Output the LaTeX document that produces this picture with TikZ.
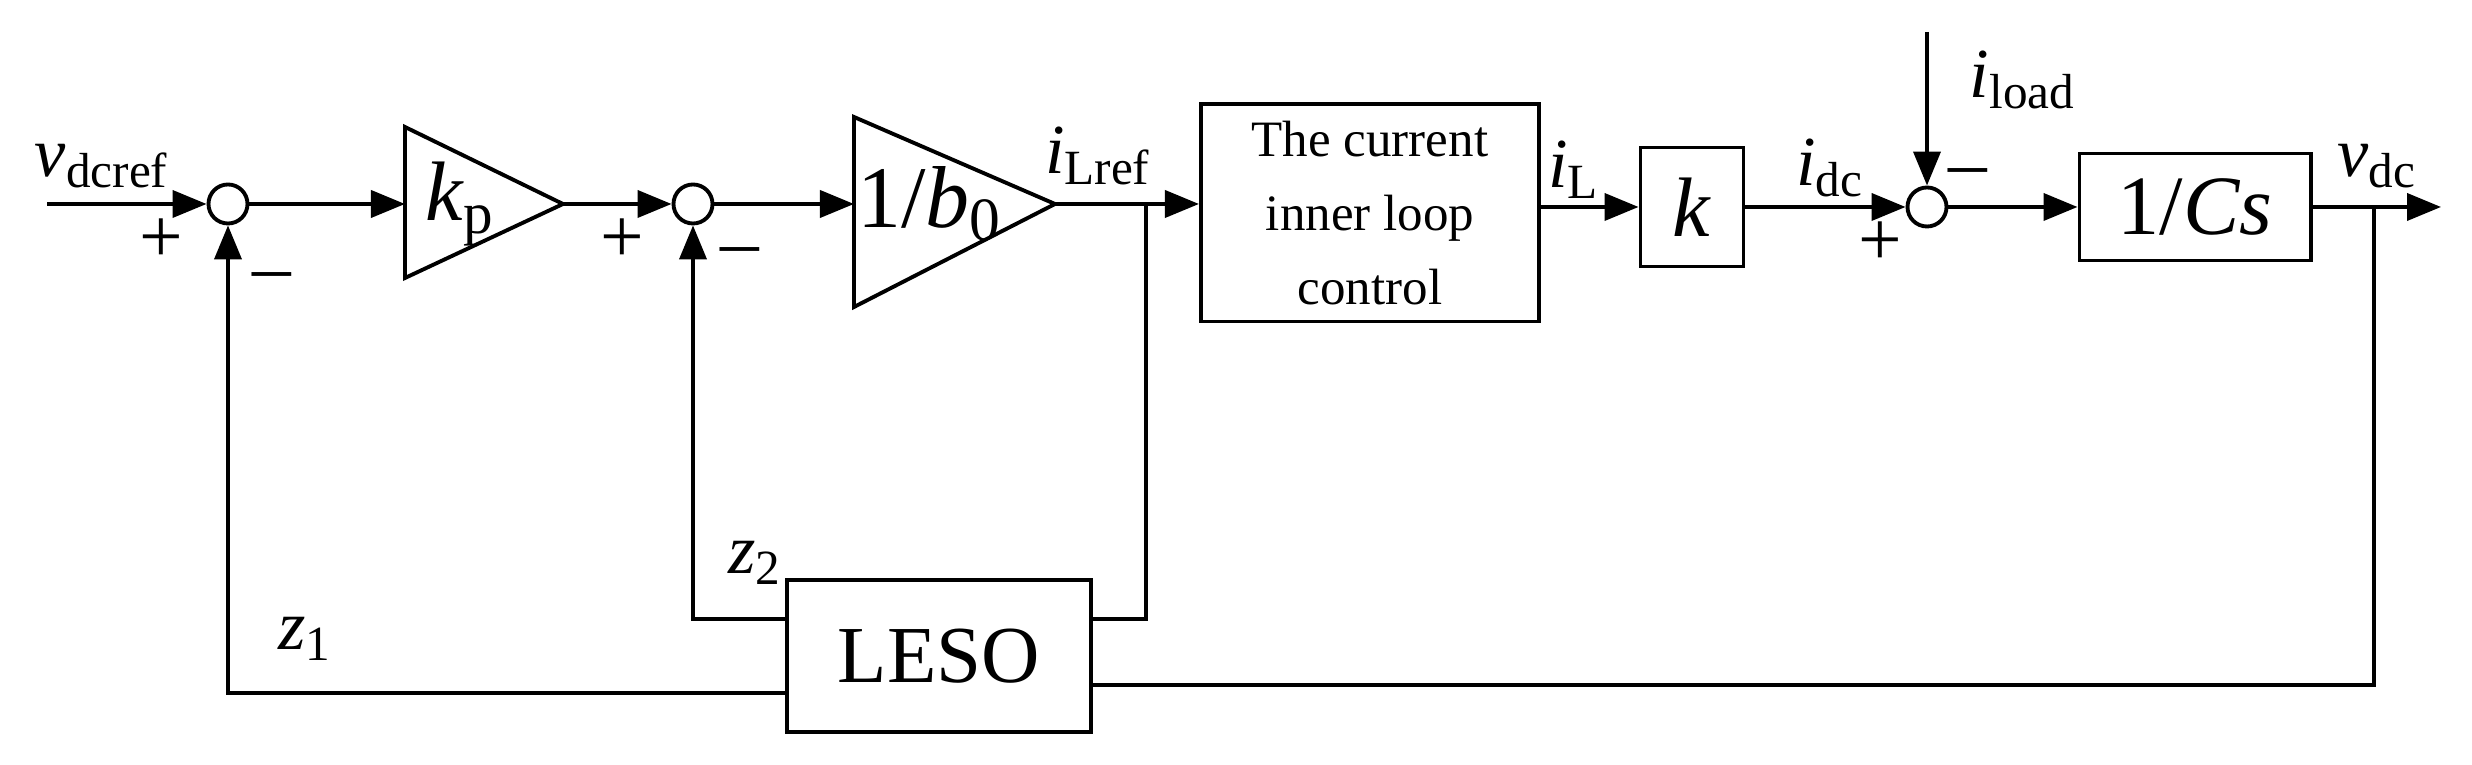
\documentclass[tikz,border=0pt]{standalone}
\usepackage{fontspec}
\setmainfont{Liberation Serif}
\usetikzlibrary{arrows.meta, positioning, calc}
\tikzset{
  line/.style={line width=1.1pt},
  arrow/.style={line, -{Triangle[length=0.34cm,width=0.27cm]}},
  block/.style={draw, line width=1.1pt, inner sep=0pt},
  sumnode/.style={draw, circle, line width=1.1pt, minimum size=0.39cm, inner sep=0pt},
  lbl/.style={font=\fontsize{20}{22}\selectfont, inner sep=0pt},
  sign/.style={font=\fontsize{22}{24}\selectfont, inner sep=0pt}
}
\newcommand{\sig}[2]{\textit{#1}\textsubscript{#2}}
\begin{document}
\begin{tikzpicture}[x=0.01cm, y=-0.01cm]
        \useasboundingbox (0,0) rectangle (2472,765);

        % Summing points
        \node[sumnode] (sum1) at (228,204) {};
        \node[sumnode] (sum2) at (693,204) {};
        \node[sumnode] (sum3) at (1927,207) {};

        % Gain triangles
        \draw[line] (405,127) -- (563,204) -- (405,278) -- cycle;
        \coordinate (kpin) at (405,204);
        \coordinate (kpout) at (563,204);
        \node[font=\fontsize{24}{26}\selectfont] at (460,204) {\textit{k}\textsubscript{p}};
        \draw[line] (854,117) -- (1055,204) -- (854,307) -- cycle;
        \coordinate (bin) at (854,204);
        \coordinate (bout) at (1055,204);
        \node[font=\fontsize{25}{27}\selectfont] at (930,204) {1/\textit{b}\textsubscript{0}};

        % Blocks
        \node[block, minimum width=3.38cm, minimum height=2.17cm, align=center,
              font=\fontsize{14.5}{21}\selectfont] (inner) at (1370,213)
              {The current\\inner loop\\control};
        \node[block, minimum width=1.03cm, minimum height=1.19cm,
              font=\fontsize{24}{26}\selectfont] (kblk) at (1692,207) {\textit{k}};
        \node[block, minimum width=2.31cm, minimum height=1.07cm,
              font=\fontsize{24}{26}\selectfont] (cs) at (2195,207) {1/\textit{Cs}};
        \node[block, minimum width=3.04cm, minimum height=1.52cm,
              font=\fontsize{23}{25}\selectfont] (leso) at (939,656) {LESO};

        % Branch points
        \coordinate (in) at (47,204);
        \coordinate (br1) at (1146,204);
        \coordinate (br2) at (2374,207);
        \coordinate (out) at (2441,207);
        \coordinate (ld) at (1927,32);

        % Forward path
        \draw[arrow] (in) -- (sum1);
        \draw[arrow] (sum1) -- (kpin);
        \draw[arrow] (kpout) -- (sum2);
        \draw[arrow] (sum2) -- (bin);
        \draw[arrow] (bout) -- (bout -| inner.west);
        \draw[arrow] (inner.east |- kblk) -- (kblk);
        \draw[arrow] (kblk) -- (sum3);
        \draw[arrow] (ld) -- (sum3);
        \draw[arrow] (sum3) -- (cs);
        \draw[arrow] (cs) -- (out);

        % Feedback paths
        \draw[line] (br1) |- ($(leso.east)+(0,-37)$);
        \draw[arrow] ($(leso.west)+(0,-37)$) -| (sum2);
        \draw[line] (br2) |- ($(leso.east)+(0,29)$);
        \draw[arrow] ($(leso.west)+(0,37)$) -| (sum1);

        % Labels
        \node[lbl] at (102,166) {\sig{v}{dcref}};
        \node[lbl] at (1098,156) {\sig{i}{Lref}};
        \node[lbl] at (1574,170) {\sig{i}{L}};
        \node[lbl] at (1830,168) {\sig{i}{dc}};
        \node[lbl] at (2023,80) {\sig{i}{load}};
        \node[lbl] at (2377,166) {\sig{v}{dc}};
        \node[lbl] at (755,563) {\sig{z}{2}};
        \node[lbl] at (305,639) {\sig{z}{1}};

        % Signs
        \node[sign] at (161,241) {+};
        \node[sign] at (272,283) {--};
        \node[sign] at (622,241) {+};
        \node[sign] at (740,258) {--};
        \node[sign] at (1968,179) {--};
        \node[sign] at (1880,244) {+};
\end{tikzpicture}
\end{document}
